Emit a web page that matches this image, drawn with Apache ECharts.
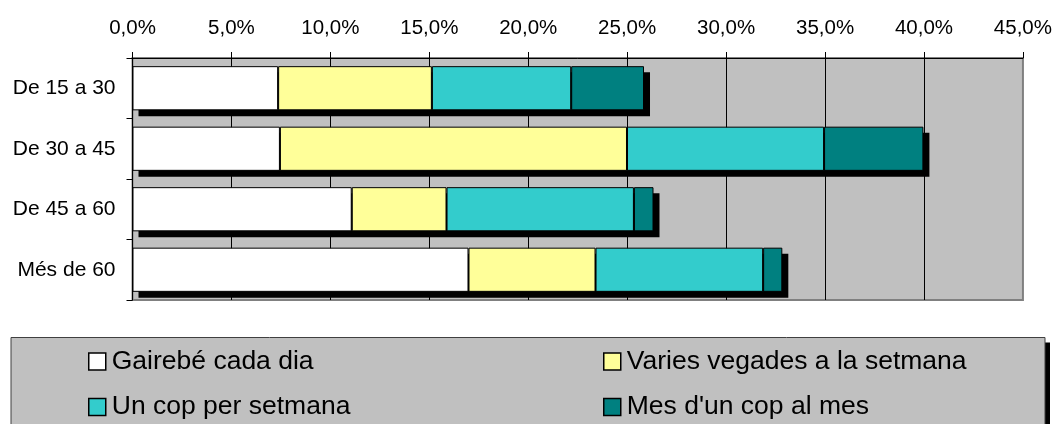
<!DOCTYPE html>
<html>
<head>
<meta charset="utf-8">
<script src="https://cdn.jsdelivr.net/npm/echarts@6/dist/echarts.min.js"></script>
<style>
  html, body { margin: 0; padding: 0; background: #ffffff; }
  #chart { width: 1055px; height: 424px; }
</style>
</head>
<body>
<div id="chart"></div>
<script>
// ---- Data ----
const categories = ['De 15 a 30', 'De 30 a 45', 'De 45 a 60', 'Més de 60'];
const seriesNames = ['Gairebé cada dia', 'Varies vegades a la setmana', 'Un cop per setmana', "Mes d'un cop al mes"];
const gairebeCadaDia = [7.36, 7.45, 11.08, 16.98];
const variesVegades = [7.77, 17.54, 4.79, 6.42];
const unCopSetmana = [7.04, 9.96, 9.47, 8.47];
const mesDunCopMes = [3.68, 5.02, 0.99, 0.97];
const xTickMin = 0, xTickMax = 45, xTickStep = 5;

// ---- Styles ----
const FONT = '"Liberation Sans", Arial, sans-serif';
const colors = ['#FFFFFF', '#FFFF99', '#33CCCC', '#008080'];
const seriesData = [gairebeCadaDia, variesVegades, unCopSetmana, mesDunCopMes];
const BAR_RATIO = 0.73;
const SHADOW = 6;

const totals = categories.map((_, i) => seriesData.reduce((s, arr) => s + arr[i], 0));

const chart = echarts.init(document.getElementById('chart'), null, { renderer: 'canvas' });

const shadowSeries = {
  name: '__shadow',
  type: 'custom',
  z: 1,
  silent: true,
  data: totals.map((t, i) => [t, i]),
  encode: { x: 0, y: 1 },
  renderItem: function (params, api) {
    const idx = api.value(1);
    const p0 = api.coord([0, idx]);
    const p1 = api.coord([api.value(0), idx]);
    const band = api.size([0, 1])[1];
    const h = band * BAR_RATIO;
    return {
      type: 'rect',
      shape: { x: p0[0] + SHADOW, y: p0[1] - h / 2 + SHADOW, width: p1[0] - p0[0], height: h },
      style: { fill: '#000' }
    };
  },
  animation: false
};

const barSeries = seriesNames.map((name, i) => ({
  name: name,
  type: 'bar',
  stack: 'total',
  z: 2,
  barWidth: (BAR_RATIO * 100) + '%',
  data: seriesData[i],
  itemStyle: {
    color: colors[i],
    borderColor: '#000',
    borderWidth: 1
  },
  emphasis: { disabled: true },
  animation: false
}));

const legendPos = [
  { left: 88, top: 348 },
  { left: 603, top: 348 },
  { left: 88, top: 393.5 },
  { left: 603, top: 393.5 }
];
const legends = seriesNames.map((name, i) => ({
  data: [name],
  left: legendPos[i].left,
  top: legendPos[i].top,
  padding: 0,
  icon: 'rect',
  itemWidth: 17,
  itemHeight: 17,
  selectedMode: false,
  itemStyle: {
    borderColor: '#000',
    borderWidth: 1.5
  },
  textStyle: {
    fontFamily: FONT,
    fontSize: 26.5,
    lineHeight: 26,
    color: '#000',
    padding: [0, 0, 0, 1]
  }
}));

const splitColors = [];
for (let v = xTickMin; v <= xTickMax; v += xTickStep) {
  splitColors.push(v === xTickMax ? 'rgba(0,0,0,0)' : '#000');
}

const option = {
  animation: false,
  backgroundColor: '#ffffff',
  graphic: [{
    type: 'rect',
    z: 0,
    shape: { x: 16, y: 342.5, width: 1034, height: 120 },
    style: { fill: '#000' },
    silent: true
  }, {
    type: 'rect',
    z: 0,
    shape: { x: 11, y: 337.5, width: 1034, height: 120 },
    style: { fill: '#C0C0C0', stroke: '#404040', lineWidth: 1 },
    silent: true
  }],
  grid: {
    left: 132.5,
    right: 31.5,
    top: 58,
    bottom: 124,
    show: true,
    backgroundColor: '#C0C0C0',
    borderColor: '#808080',
    borderWidth: 2,
    containLabel: false
  },
  xAxis: {
    type: 'value',
    position: 'top',
    min: xTickMin,
    max: xTickMax,
    interval: xTickStep,
    axisLine: { show: true, lineStyle: { color: '#000', width: 1 } },
    axisTick: { show: true, inside: false, length: 6, lineStyle: { color: '#000', width: 1 } },
    splitLine: { show: true, lineStyle: { color: splitColors, width: 1 } },
    axisLabel: {
      fontFamily: FONT,
      fontSize: 20.5,
      color: '#000',
      margin: 19,
      formatter: v => v.toFixed(1).replace('.', ',') + '%'
    }
  },
  yAxis: {
    type: 'category',
    data: categories,
    inverse: true,
    axisLine: { show: true, lineStyle: { color: '#000', width: 1 } },
    axisTick: { show: true, inside: false, length: 6, lineStyle: { color: '#000', width: 1 } },
    splitLine: { show: false },
    axisLabel: {
      fontFamily: FONT,
      fontSize: 21,
      color: '#000',
      margin: 17
    }
  },
  legend: legends,
  tooltip: { show: false },
  series: [shadowSeries].concat(barSeries)
};

chart.setOption(option);
</script>
</body>
</html>
